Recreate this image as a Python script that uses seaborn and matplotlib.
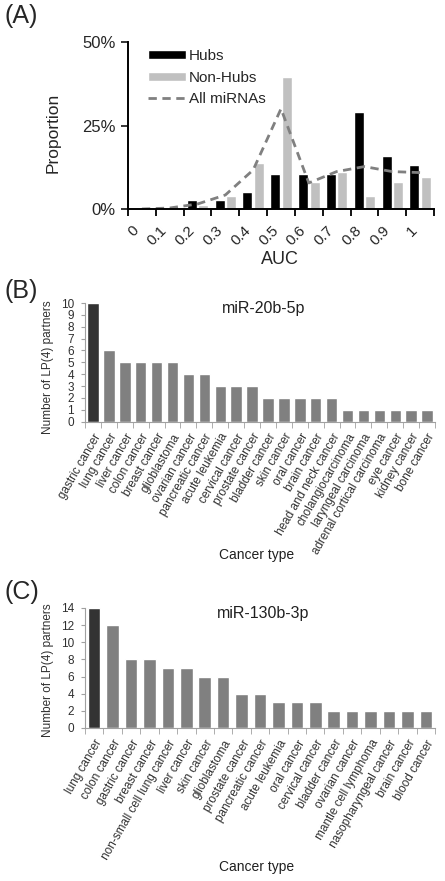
import numpy as np
import matplotlib
matplotlib.use('Agg')
import matplotlib.pyplot as plt
import pandas as pd
import seaborn as sns
from matplotlib.patches import Patch
from matplotlib.lines import Line2D
from matplotlib.ticker import PercentFormatter

# panel A: AUC distribution (percent)
auc_bins = ['0', '0.1', '0.2', '0.3', '0.4', '0.5', '0.6', '0.7', '0.8', '0.9', '1']
hubs = [0, 0, 2.7, 2.7, 5.2, 10.5, 10.5, 10.5, 29.0, 15.9, 13.1]
non_hubs = [0, 0, 1.3, 3.9, 13.7, 39.6, 8.2, 11.0, 3.9, 8.2, 9.5]
all_mirnas = [0, 0.3, 1.5, 4.2, 11.7, 30.0, 7.8, 11.2, 12.7, 11.2, 10.9]

# panel B: miR-20b-5p
cancer_b = ['gastric cancer', 'lung cancer', 'liver cancer', 'colon cancer', 'breast cancer',
            'glioblastoma', 'ovarian cancer', 'pancreatic cancer', 'acute leukemia',
            'cervical cancer', 'prostate cancer', 'bladder cancer', 'skin cancer', 'oral cancer',
            'brain cancer', 'head and neck cancer', 'cholangiocarcinoma', 'laryngeal carcinoma',
            'adrenal cortical carcinoma', 'eye cancer', 'kidney cancer', 'bone cancer']
partners_b = [10, 6, 5, 5, 5, 5, 4, 4, 3, 3, 3, 2, 2, 2, 2, 2, 1, 1, 1, 1, 1, 1]

# panel C: miR-130b-3p
cancer_c = ['lung cancer', 'colon cancer', 'gastric cancer', 'breast cancer',
            'non-small cell lung cancer', 'liver cancer', 'skin cancer', 'glioblastoma',
            'prostate cancer', 'pancreatic cancer', 'acute leukemia', 'oral cancer',
            'cervical cancer', 'bladder cancer', 'ovarian cancer', 'mantle cell lymphoma',
            'nasopharyngeal cancer', 'brain cancer', 'blood cancer']
partners_c = [14, 12, 8, 8, 7, 7, 6, 6, 4, 4, 3, 3, 3, 2, 2, 2, 2, 2, 2]

sns.set_style('ticks')
plt.rcParams['font.family'] = ['Liberation Sans', 'DejaVu Sans']

W, H = 445, 881
fig = plt.figure(figsize=(W / 100, H / 100), dpi=100)

def box(l, t, r, b):
    return [l / W, 1 - b / H, (r - l) / W, (b - t) / H]

#----- panel A
axA = fig.add_axes(box(128, 42, 434, 209))
dfA = pd.DataFrame({'AUC': auc_bins * 2,
                    'value': hubs + non_hubs,
                    'group': ['Hubs'] * len(auc_bins) + ['Non-Hubs'] * len(auc_bins)})
sns.barplot(data=dfA, x='AUC', y='value', hue='group', order=auc_bins,
            palette={'Hubs': 'black', 'Non-Hubs': '#c0c0c0'},
            width=0.82, gap=0.12, legend=False, ax=axA)
sns.lineplot(x=np.arange(len(auc_bins)), y=all_mirnas, color='#808080',
             linestyle=(0, (3, 2)), lw=2, ax=axA)
axA.set_xlim(-0.5, len(auc_bins) - 0.5)
axA.set_ylim(0, 50)
axA.set_yticks([0, 25, 50])
axA.yaxis.set_major_formatter(PercentFormatter(decimals=0))
axA.set_xticks(np.arange(len(auc_bins)))
axA.set_xticklabels(auc_bins, rotation=45, ha='right')
axA.set_xticks(np.arange(-0.5, len(auc_bins), 1), minor=True)
axA.tick_params(axis='x', which='major', length=0, pad=10, labelsize=11)
axA.tick_params(axis='x', which='minor', length=5, width=1.3, color='black')
axA.tick_params(axis='y', length=5, width=1.3, labelsize=12, pad=4)
axA.set_xlabel('')
axA.set_ylabel('')
sns.despine(ax=axA)
for s in ['left', 'bottom']:
    axA.spines[s].set_linewidth(1.4)
    axA.spines[s].set_color('black')
handles = [Patch(facecolor='black', label='Hubs'),
           Patch(facecolor='#c0c0c0', label='Non-Hubs'),
           Line2D([0], [0], color='#808080', lw=2, linestyle=(0, (3, 2)), label='All miRNAs')]
axA.legend(handles=handles, loc='upper left', bbox_to_anchor=(0.02, 1.04), frameon=False,
           fontsize=11, handlelength=2.5, handleheight=0.5, handletextpad=0.2, labelspacing=0.5)
fig.text(53 / W, 1 - 133 / H, 'Proportion', rotation=90, ha='center', va='center', fontsize=12.5)
fig.text(280 / W, 1 - 260 / H, 'AUC', ha='center', va='center', fontsize=13)
fig.text(5 / W, 1 - 16 / H, '(A)', ha='left', va='center', fontsize=18)

#----- panels B and C
def partner_panel(ax, cancers, counts, ymax, ystep, title, width):
    colors = ['#333333'] + ['#808080'] * (len(cancers) - 1)
    sns.barplot(x=cancers, y=counts, hue=cancers, palette=colors, order=cancers,
                width=width, legend=False, ax=ax)
    ax.set_xlim(-0.5, len(cancers) - 0.5)
    ax.set_ylim(0, ymax)
    ax.set_yticks(np.arange(0, ymax + 1, ystep))
    ax.set_xticks(np.arange(len(cancers)))
    ax.set_xticklabels(cancers, rotation=60, ha='right', rotation_mode='anchor')
    ax.set_xticks(np.arange(-0.5, len(cancers), 1), minor=True)
    ax.tick_params(axis='x', which='major', length=0, pad=7, labelsize=8.5, labelcolor='#303030')
    ax.tick_params(axis='x', which='minor', length=4, color='#a0a0a0')
    ax.tick_params(axis='y', length=3, color='#a0a0a0', labelsize=8.5, labelcolor='#303030', pad=5)
    sns.despine(ax=ax)
    for s in ['left', 'bottom']:
        ax.spines[s].set_color('#a0a0a0')
    ax.text(0.51, 0.955, title, transform=ax.transAxes, ha='center', va='center', fontsize=11.5,
            color='#202020')

axB = fig.add_axes(box(85, 303, 435, 421.7))
partner_panel(axB, cancer_b, partners_b, 10, 1, 'miR-20b-5p', 0.72)
fig.text(5 / W, 1 - 291 / H, '(B)', ha='left', va='center', fontsize=18)
fig.text(48 / W, 1 - 367 / H, 'Number of LP(4) partners', rotation=90, ha='center', va='center',
         fontsize=8.5, color='#303030')
fig.text(257 / W, 1 - 555 / H, 'Cancer type', ha='center', va='center', fontsize=10, color='#202020')

axC = fig.add_axes(box(85, 608, 435, 728))
partner_panel(axC, cancer_c, partners_c, 14, 2, 'miR-130b-3p', 0.68)
fig.text(5 / W, 1 - 592 / H, '(C)', ha='left', va='center', fontsize=18)
fig.text(48 / W, 1 - 670 / H, 'Number of LP(4) partners', rotation=90, ha='center', va='center',
         fontsize=8.5, color='#303030')
fig.text(257 / W, 1 - 867 / H, 'Cancer type', ha='center', va='center', fontsize=10, color='#202020')

fig.savefig('out.png', dpi=100)
